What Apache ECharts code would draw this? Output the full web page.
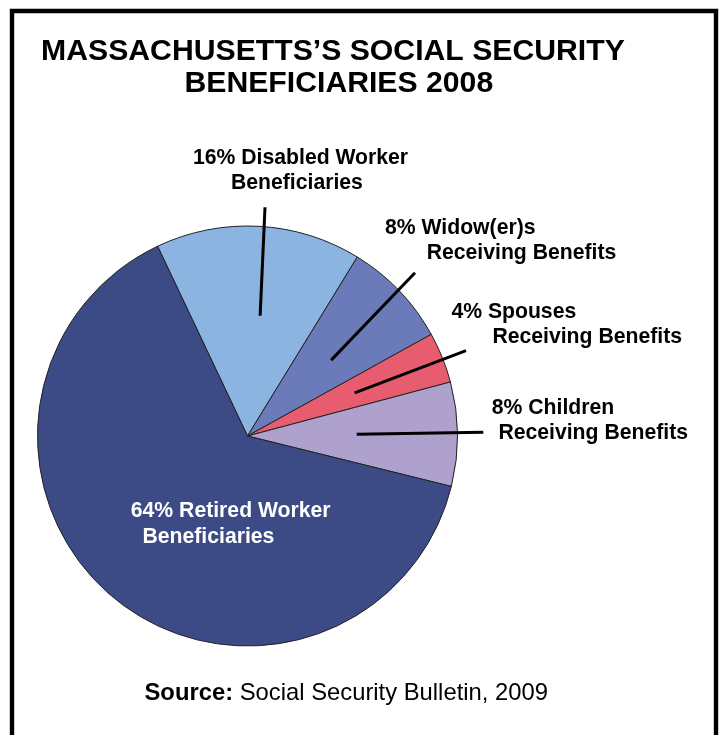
<!DOCTYPE html>
<html><head><meta charset="utf-8">
<script src="https://cdn.jsdelivr.net/npm/echarts@6/dist/echarts.min.js"></script>
<style>html,body{margin:0;padding:0;background:#fff}#c{width:722px;height:735px}</style>
</head><body><div id="c"></div>
<script>
// ---- data ----
const categories = ['Disabled Worker Beneficiaries', 'Widow(er)s Receiving Benefits', 'Spouses Receiving Benefits', 'Children Receiving Benefits', 'Retired Worker Beneficiaries'];
const values = [15.8, 8.2, 3.9, 8.0, 64.1];
const labelLine1 = ['16% Disabled Worker', '8% Widow(er)s', '4% Spouses', '8% Children', '64% Retired Worker'];
const labelLine2 = ['Beneficiaries', 'Receiving Benefits', 'Receiving Benefits', 'Receiving Benefits', 'Beneficiaries'];
const titleLines = ['MASSACHUSETTS\u2019S SOCIAL SECURITY', 'BENEFICIARIES 2008'];
const sourceBold = 'Source:';
const sourceRest = 'Social Security Bulletin, 2009';

// ---- styles / layout ----
const colors = ['#8CB4E0', '#6B7BBA', '#E75D6F', '#AEA1CD', '#3C4B85'];
const labelColors = ['#000', '#000', '#000', '#000', '#fff'];
const FONT = "'Liberation Sans', Arial, sans-serif";
const CX = 247.5, CY = 436, R = 210, START = 115.35;
const labelPos = [
  { x: 193, y: 145.3, indent: 38, end: [265, 207.3], k: 0.576, da: -2.9 },
  { x: 385, y: 215.3, indent: 41.7, end: [415, 272.7], k: 0.538, da: -1.5 },
  { x: 451.4, y: 299.3, indent: 41, end: [466, 350.7], k: 0.55, da: 0 },
  { x: 491.8, y: 395.3, indent: 6.6, end: [483.3, 432.3], k: 0.52, da: 0.4 },
  { x: 130.8, y: 498.6, indent: 11.7, end: null }
];
const LFS = 21.2, LLH = 25.5;

const pieData = values.map((v, i) => ({ name: categories[i], value: v, itemStyle: { color: colors[i] } }));

const labelData = values.map((v, i) => {
  const c = labelColors[i];
  const base = { fontSize: LFS, fontWeight: 'bold', fontFamily: FONT, color: c, lineHeight: LLH };
  return {
    name: categories[i],
    value: v,
    label: {
      color: c,
      formatter: '{a|' + labelLine1[i] + '}\n{b|' + labelLine2[i] + '}',
      rich: {
        a: Object.assign({}, base),
        b: Object.assign({}, base, { padding: [0, 0, 0, labelPos[i].indent] })
      }
    },
    labelLine: { show: !!labelPos[i].end }
  };
});

const chart = echarts.init(document.getElementById('c'), null, { renderer: 'canvas' });
chart.setOption({
  animation: false,
  backgroundColor: '#fff',
  title: [{
    left: 41.1, top: 36, padding: 0,
    text: '{a|' + titleLines[0] + '}\n{b|' + titleLines[1] + '}',
    textStyle: {
      rich: {
        a: { fontSize: 30.2, fontWeight: 'bold', fontFamily: FONT, color: '#000', lineHeight: 31.6 },
        b: { fontSize: 30.2, fontWeight: 'bold', fontFamily: FONT, color: '#000', lineHeight: 31.6, padding: [0, 0, 0, 143.4] }
      }
    }
  }, {
    left: 144.5, top: 679.2, padding: 0,
    text: '{s|' + sourceBold + '}{t| ' + sourceRest + '}',
    textStyle: {
      rich: {
        s: { fontSize: 23.8, fontWeight: 'bold', fontFamily: FONT, color: '#000', lineHeight: 28 },
        t: { fontSize: 23.8, fontWeight: 'normal', fontFamily: FONT, color: '#000', lineHeight: 28 }
      }
    }
  }],
  graphic: [{
    type: 'polyline', silent: true,
    shape: { points: [[12, 745], [12, 11], [716, 11], [716, 745]] },
    style: { stroke: '#000', lineWidth: 4.4, fill: null, lineJoin: 'miter' }
  }],
  series: [{
    type: 'pie',
    z: 2,
    center: [CX, CY],
    radius: R,
    startAngle: START,
    clockwise: true,
    silent: true,
    itemStyle: { borderColor: '#222', borderWidth: 1 },
    label: { show: false },
    labelLine: { show: false },
    data: pieData
  }, {
    type: 'pie',
    z: 5,
    center: [CX, CY],
    radius: R,
    startAngle: START,
    clockwise: true,
    avoidLabelOverlap: false,
    silent: true,
    itemStyle: { color: 'rgba(0,0,0,0)', borderWidth: 0 },
    label: {
      show: true, position: 'outside', width: 300, overflow: 'none',
      align: 'left', verticalAlign: 'top',
      fontSize: LFS, fontWeight: 'bold', fontFamily: FONT, lineHeight: LLH
    },
    labelLine: { show: true, showAbove: true, length: 10, length2: 10, lineStyle: { color: '#000', width: 3 } },
    labelLayout: function (p) {
      const L = labelPos[p.dataIndex];
      const out = { x: L.x, y: L.y, align: 'left', verticalAlign: 'top' };
      if (L.end && p.labelLinePoints && p.labelLinePoints.length) {
        const p0 = p.labelLinePoints[0];
        const ang = Math.atan2(CY - p0[1], p0[0] - CX) + L.da * Math.PI / 180;
        const r = L.k * R;
        const s = [CX + r * Math.cos(ang), CY - r * Math.sin(ang)];
        out.labelLinePoints = [s, L.end, L.end];
      }
      return out;
    },
    data: labelData
  }]
});
</script>
</body></html>
